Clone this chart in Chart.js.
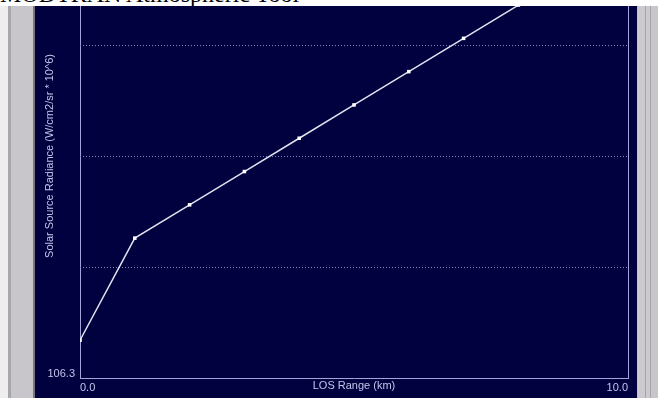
<!DOCTYPE html>
<html>
<head>
<meta charset="utf-8">
<title>Solar Source Radiance</title>
<script src="https://cdn.jsdelivr.net/npm/chart.js@4.4.1/dist/chart.umd.min.js"></script>
<style>
  html, body { margin: 0; padding: 0; }
  body { width: 658px; height: 398px; overflow: hidden; position: relative; background: #ffffff; }
  #titlebar { position: absolute; left: 0; top: 0; width: 658px; height: 6px; overflow: hidden; background: #ffffff; z-index: 5; }
  #titlebar span { position: absolute; left: 0; top: -18px; font: 24px/24px "Liberation Serif", "Times New Roman", serif; color: #000; white-space: nowrap; }
  #leftframe { position: absolute; left: 0; top: 6px; width: 35px; height: 392px;
    background: linear-gradient(to right, #eeeeee 0px, #eeeeee 8px, #a9a7ab 8px, #a9a7ab 11px, #c9c6cb 11px, #c9c6cb 33px, #77767a 33px, #77767a 35px); }
  #rightframe { position: absolute; left: 637px; top: 6px; width: 21px; height: 392px;
    background: linear-gradient(to right, #c4c4d4 0px, #c4c4d4 1px, #cdcacf 1px, #cdcacf 8px, #a6a4a8 8px, #a6a4a8 9px, #cdcacf 9px, #cdcacf 13px, #a6a4a8 13px, #a6a4a8 14px, #c9c6cb 14px); }
  #panel { position: absolute; left: 35px; top: 6px; width: 602px; height: 392px; background: #01013f; overflow: hidden; }
  #wrap { position: absolute; left: 0; top: -106px; width: 602px; height: 498px; }
</style>
</head>
<body>
<div id="titlebar"><span>MODTRAN Atmospheric Tool</span></div>
<div id="leftframe"></div>
<div id="panel"><div id="wrap"><canvas id="chart" width="602" height="498"></canvas></div></div>
<div id="rightframe"></div>
<script>
// LOS range (km) and solar source radiance along the path
const rangeKm = [0, 1, 2, 3, 4, 5, 6, 7, 8, 9, 10];
const radiance = [108.0, 112.6, 114.1, 115.6, 117.1, 118.6, 120.1, 121.6, 123.1, 124.6, 126.1];

// axis ticks
const yTicks = [106.3, 111.3, 116.3, 121.3, 126.3];
const yLabelled = [106.3];
const xTicks = [0, 10];

const axisColor = '#a4a4dc';
const textColor = '#c4c4ec';
const gridColor = '#8282c8';
const font = { family: 'Liberation Sans, Arial, sans-serif', size: 11 };

new Chart(document.getElementById('chart'), {
  type: 'line',
  data: {
    datasets: [{
      data: rangeKm.map((x, i) => ({ x: x, y: radiance[i] })),
      borderColor: '#e2e2f0',
      borderWidth: 1.5,
      tension: 0,
      pointStyle: 'rect',
      pointRadius: 2.5,
      pointBackgroundColor: '#ffffff',
      pointBorderColor: '#ffffff',
      pointBorderWidth: 0
    }]
  },
  options: {
    responsive: false,
    animation: false,
    events: [],
    layout: { padding: { top: 34, right: 9, left: 0, bottom: 0 } },
    plugins: { legend: { display: false }, tooltip: { enabled: false } },
    scales: {
      x: {
        type: 'linear',
        min: 0, max: 10,
        afterBuildTicks: s => { s.ticks = xTicks.map(v => ({ value: v })); },
        afterFit: s => { s.height = 20; },
        grid: { color: axisColor, lineWidth: 1, drawTicks: false },
        border: { display: true, color: axisColor, width: 1, dash: [] },
        ticks: {
          color: textColor, font: font, padding: 3, align: 'inner', maxRotation: 0,
          callback: v => Number(v).toFixed(1)
        },
        title: { display: true, text: 'LOS Range (km)', color: textColor, font: font, padding: { top: 0, bottom: 5 } }
      },
      y: {
        type: 'linear',
        min: 106.3, max: 126.3,
        afterBuildTicks: s => { s.ticks = yTicks.map(v => ({ value: v })); },
        afterFit: s => { s.width = 45; },
        // dotted horizontal grid lines; the bottom one is the solid x axis
        grid: {
          color: c => (c.tick && Math.abs(c.tick.value - yTicks[0]) < 1e-6) ? 'rgba(0,0,0,0)' : gridColor,
          lineWidth: 1, drawTicks: false
        },
        border: { display: false, dash: [1, 2] },
        ticks: {
          color: textColor, font: font, padding: 5, labelOffset: -4,
          callback: v => yLabelled.includes(Math.round(v * 10) / 10) ? Number(v).toFixed(1) : ''
        },
        title: { display: true, text: 'Solar Source Radiance (W/cm2/sr * 10^6)', color: textColor, font: font, padding: { top: 8, bottom: 0 } }
      }
    }
  }
});
</script>
</body>
</html>
